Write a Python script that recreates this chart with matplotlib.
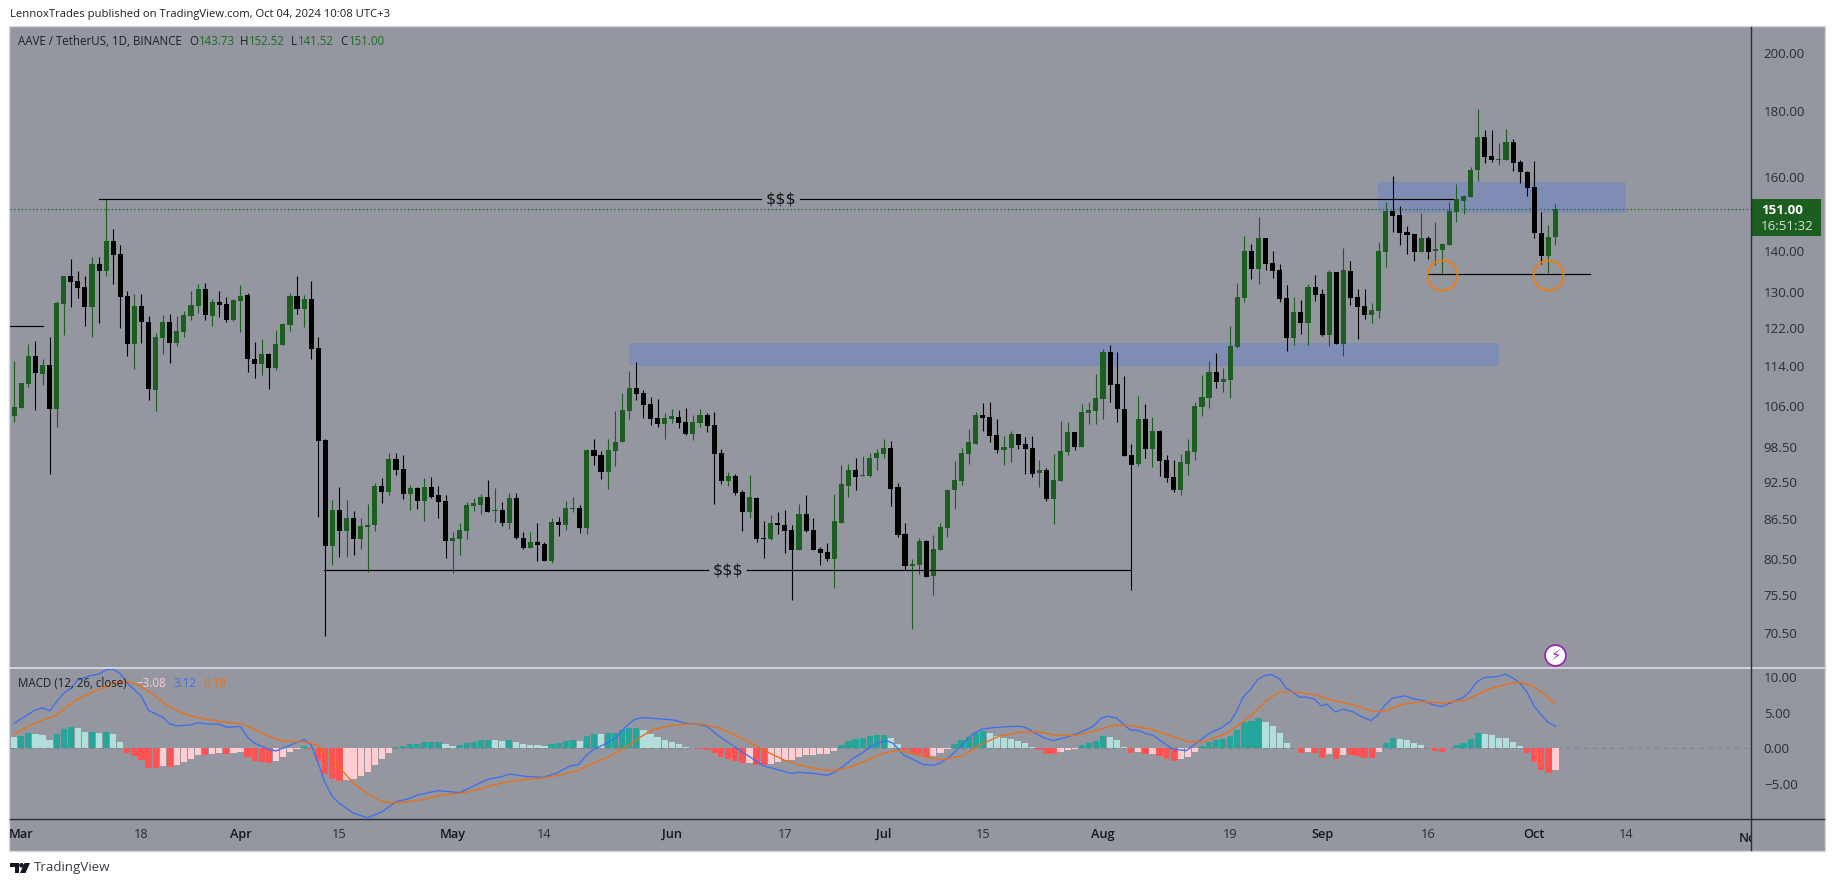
import numpy as np
import matplotlib
matplotlib.use("Agg")
import matplotlib.pyplot as plt
from matplotlib.patches import Rectangle, Polygon, Circle
from matplotlib.transforms import Affine2D, Bbox, TransformedBbox

plt.rcParams['font.family'] = ['Open Sans', 'DejaVu Sans']

# daily candles, index 0 = Feb 29 2024, index 218 = Oct 4 2024
opens = [
    104.2, 105.7, 110.3, 116.0, 112.3, 114.2, 105.5, 127.4, 134.0, 132.8,
    131.3, 126.7, 136.9, 135.2, 142.6, 139.3, 129.2, 118.6, 126.9, 123.3,
    109.1, 119.8, 123.3, 118.8, 121.1, 124.6, 126.9, 130.8, 124.6, 127.8,
    127.4, 123.7, 128.1, 129.4, 115.4, 114.4, 116.5, 113.5, 118.4, 122.6,
    129.2, 126.2, 128.5, 117.7, 99.8, 82.4, 88.0, 84.7, 86.7, 83.5,
    85.3, 85.6, 91.9, 90.9, 96.4, 94.7, 90.6, 91.5, 89.4, 91.7,
    90.3, 89.4, 83.2, 83.5, 84.7, 88.6, 88.8, 90.1, 87.8, 88.0,
    85.9, 89.9, 83.7, 82.2, 83.1, 82.8, 80.3, 86.1, 85.7, 88.2,
    88.3, 85.2, 98.0, 97.1, 94.2, 97.8, 99.3, 105.1, 109.6, 108.6,
    106.4, 103.8, 102.7, 103.6, 104.0, 103.1, 100.9, 102.9, 104.4, 102.5,
    97.5, 92.7, 93.5, 90.9, 87.7, 89.9, 83.7, 83.5, 85.9, 85.7,
    84.9, 81.9, 87.4, 84.9, 82.0, 81.6, 80.6, 86.0, 91.9, 94.6,
    93.5, 93.5, 96.5, 97.3, 98.4, 91.6, 84.3, 79.5, 79.7, 83.2,
    78.2, 81.9, 85.2, 91.1, 92.7, 97.3, 99.1, 104.4, 104.0, 100.7,
    98.0, 98.4, 100.9, 99.1, 98.4, 94.0, 94.6, 89.8, 92.7, 97.7,
    101.2, 98.5, 104.7, 105.1, 107.4, 116.9, 110.3, 105.5, 97.1, 95.6,
    103.6, 98.2, 101.4, 96.3, 93.4, 91.1, 95.6, 97.7, 105.9, 107.6,
    112.7, 110.7, 111.1, 117.9, 128.8, 140.1, 135.7, 143.4, 137.1, 135.4,
    128.8, 119.8, 125.6, 123.1, 131.4, 129.7, 120.5, 134.9, 118.6, 135.2,
    129.0, 126.9, 124.9, 125.8, 139.8, 150.6, 149.5, 145.0, 144.4, 139.8,
    143.4, 140.1, 140.3, 141.6, 150.3, 153.2, 154.4, 162.1, 172.0, 166.2,
    165.0, 165.0, 170.4, 164.2, 161.5, 157.0, 144.7, 138.8, 143.73,
]
highs = [
    115.0, 110.5, 118.6, 119.2, 115.4, 120.0, 128.1, 134.0, 138.1, 135.2,
    134.0, 138.6, 138.6, 153.7, 145.8, 141.6, 130.4, 129.7, 129.7, 124.6,
    120.9, 124.9, 125.1, 124.6, 125.8, 130.4, 132.0, 132.3, 128.5, 130.4,
    129.0, 128.5, 131.8, 129.9, 119.0, 119.6, 116.7, 121.5, 123.1, 129.9,
    134.0, 129.4, 132.6, 120.0, 100.0, 89.6, 91.7, 89.6, 87.8, 86.7,
    88.9, 92.4, 93.2, 97.5, 97.5, 97.1, 92.0, 91.7, 93.2, 93.4,
    91.9, 90.4, 84.6, 85.9, 89.3, 89.9, 90.6, 92.9, 91.5, 89.3,
    90.7, 90.7, 84.6, 84.5, 85.9, 83.0, 86.7, 86.9, 89.4, 90.1,
    88.8, 98.2, 99.9, 97.8, 99.9, 105.1, 108.5, 112.9, 114.7, 109.1,
    107.8, 107.4, 104.7, 105.5, 105.3, 105.7, 104.4, 105.5, 104.7, 104.9,
    98.2, 94.2, 93.9, 91.2, 93.7, 90.1, 86.2, 87.2, 87.7, 88.0,
    85.6, 88.9, 90.3, 86.7, 82.3, 82.9, 90.6, 95.4, 95.6, 96.5,
    97.0, 97.5, 98.2, 100.0, 99.6, 92.4, 85.9, 80.5, 83.7, 83.4,
    84.1, 86.0, 91.1, 96.0, 98.4, 101.8, 104.9, 106.6, 106.8, 103.6,
    100.5, 101.4, 100.9, 100.2, 100.4, 96.3, 94.9, 97.3, 103.2, 103.1,
    101.2, 106.4, 106.8, 112.3, 117.5, 118.2, 116.9, 111.9, 99.1, 108.0,
    106.4, 104.0, 101.6, 97.1, 96.3, 97.3, 100.0, 106.8, 112.1, 115.0,
    116.7, 113.5, 122.4, 132.3, 143.9, 141.8, 149.0, 143.4, 140.0, 136.9,
    131.8, 129.0, 128.3, 132.1, 134.2, 130.7, 135.4, 134.9, 140.8, 137.5,
    130.9, 130.9, 127.6, 142.4, 152.9, 160.1, 151.9, 146.5, 144.4, 150.0,
    143.9, 147.6, 142.2, 152.9, 157.9, 154.9, 162.9, 180.7, 173.9, 173.9,
    170.1, 174.2, 171.3, 165.0, 161.8, 164.6, 150.3, 146.8, 152.52,
]
lows = [
    103.1, 105.7, 109.8, 105.3, 110.1, 93.9, 102.1, 120.5, 126.7, 128.8,
    122.4, 120.1, 123.1, 134.0, 132.0, 122.0, 116.0, 113.3, 118.8, 107.2,
    105.0, 116.3, 114.6, 118.1, 120.0, 123.7, 125.3, 123.7, 122.4, 124.4,
    123.3, 123.5, 121.1, 112.7, 111.5, 112.1, 109.3, 113.1, 118.4, 121.3,
    125.1, 122.2, 115.4, 86.9, 70.1, 79.7, 80.9, 80.9, 81.2, 82.0,
    78.7, 84.7, 89.1, 90.4, 93.7, 89.8, 88.0, 88.2, 86.2, 89.9,
    86.7, 80.7, 78.6, 81.1, 83.5, 87.8, 87.4, 87.7, 86.1, 85.5,
    85.0, 83.5, 82.0, 82.2, 80.2, 80.2, 80.0, 83.9, 84.9, 87.7,
    84.4, 84.2, 95.4, 93.0, 91.3, 95.2, 99.3, 103.6, 107.2, 103.8,
    102.5, 102.1, 100.0, 102.8, 101.9, 100.7, 99.8, 102.1, 101.1, 88.9,
    92.2, 91.9, 90.4, 84.7, 86.7, 83.1, 80.7, 83.4, 84.3, 81.5,
    74.8, 81.8, 84.6, 81.8, 79.7, 80.2, 76.5, 86.0, 90.1, 91.1,
    93.5, 93.4, 94.6, 96.5, 88.6, 83.8, 79.0, 71.1, 78.4, 78.0,
    75.5, 81.9, 83.8, 88.2, 92.0, 95.6, 99.1, 101.4, 99.3, 97.5,
    95.4, 95.8, 98.2, 93.9, 93.4, 91.6, 89.4, 85.8, 92.7, 97.1,
    98.0, 98.5, 102.7, 102.7, 103.6, 106.8, 103.1, 97.0, 76.2, 95.2,
    96.6, 95.1, 93.5, 92.5, 90.9, 90.3, 93.7, 96.3, 104.2, 105.7,
    109.6, 108.8, 107.6, 117.7, 127.8, 133.3, 132.1, 135.4, 133.5, 127.8,
    117.1, 118.4, 120.7, 118.4, 128.1, 120.3, 118.0, 118.6, 116.0, 127.2,
    119.6, 124.0, 123.1, 124.2, 136.2, 145.0, 141.6, 139.3, 137.6, 139.8,
    138.1, 136.6, 134.2, 141.6, 147.6, 149.7, 154.4, 158.7, 163.9, 164.2,
    163.3, 165.0, 161.8, 158.1, 154.6, 143.4, 136.9, 134.7, 141.52,
]
closes = [
    105.9, 110.5, 116.0, 112.5, 114.2, 105.5, 127.6, 134.0, 132.5, 131.1,
    126.7, 136.9, 135.2, 142.6, 139.0, 129.0, 118.6, 126.9, 123.3, 109.3,
    120.0, 123.3, 118.8, 121.3, 124.9, 127.1, 130.8, 124.9, 127.8, 127.1,
    123.7, 128.3, 129.2, 115.4, 114.4, 116.5, 113.5, 118.6, 122.8, 129.2,
    126.2, 128.5, 117.5, 99.6, 82.5, 88.0, 84.7, 86.7, 83.5, 85.4,
    85.7, 91.9, 90.9, 96.4, 94.6, 90.6, 91.5, 89.4, 91.7, 90.1,
    89.3, 83.2, 83.7, 84.9, 88.8, 89.0, 90.1, 87.7, 88.0, 85.9,
    89.9, 83.7, 82.2, 83.1, 82.6, 80.3, 86.1, 85.7, 88.3, 88.3,
    85.2, 98.0, 97.0, 94.2, 98.0, 99.4, 105.3, 109.6, 108.4, 106.3,
    103.6, 102.7, 103.8, 104.2, 102.9, 100.9, 103.1, 104.4, 102.3, 97.3,
    92.7, 93.5, 90.7, 87.7, 90.1, 83.5, 83.5, 85.9, 85.7, 84.7,
    81.9, 87.4, 84.7, 81.9, 81.5, 80.6, 86.2, 92.1, 94.6, 93.4,
    93.7, 96.6, 97.5, 98.4, 91.4, 84.1, 79.5, 79.9, 83.2, 78.0,
    82.0, 85.3, 91.1, 92.9, 97.5, 99.3, 104.4, 103.8, 100.5, 98.0,
    98.5, 100.9, 98.9, 98.2, 93.9, 94.6, 89.8, 92.9, 97.8, 101.2,
    98.5, 104.9, 105.3, 107.6, 116.9, 110.1, 105.5, 97.0, 95.4, 103.6,
    98.2, 101.4, 96.0, 93.2, 91.1, 95.8, 97.8, 106.1, 107.8, 112.7,
    110.7, 111.2, 118.1, 129.0, 140.1, 135.7, 143.4, 136.9, 135.2, 128.5,
    119.8, 125.6, 123.1, 131.4, 129.5, 120.5, 134.9, 118.6, 135.4, 128.8,
    126.7, 124.9, 126.0, 140.1, 150.6, 149.2, 144.7, 144.2, 139.8, 143.4,
    139.8, 140.6, 141.9, 150.6, 153.8, 154.6, 162.1, 172.0, 165.9, 164.8,
    165.3, 170.4, 163.9, 161.3, 156.7, 144.7, 138.8, 143.7, 151.00,
]

# MACD pane
hist_vals = [
    1.60, 1.75, 2.17, 2.03, 1.89, 1.18, 2.03, 2.74, 3.02, 2.88,
    2.31, 2.31, 2.17, 2.31, 2.03, 0.90, -0.66, -1.08, -1.65, -2.78,
    -2.78, -2.50, -2.64, -2.36, -1.93, -1.51, -0.94, -0.94, -0.80, -0.66,
    -0.80, -0.66, -0.52, -1.23, -1.79, -1.93, -2.08, -1.79, -1.23, -0.52,
    -0.14, 0.33, -0.14, -1.79, -3.63, -4.34, -4.62, -4.48, -4.34, -3.90,
    -3.35, -2.36, -1.51, -0.66, 0.19, 0.33, 0.61, 0.61, 0.90, 0.90,
    0.90, 0.61, 0.33, 0.47, 0.75, 0.90, 1.18, 1.18, 1.18, 1.04,
    1.18, 0.90, 0.61, 0.47, 0.47, 0.33, 0.61, 0.75, 1.04, 1.18,
    1.04, 1.75, 2.03, 2.03, 2.17, 2.17, 2.60, 2.88, 2.88, 2.60,
    2.03, 1.60, 1.18, 0.90, 0.61, 0.19, 0.05, -0.09, -0.24, -0.66,
    -1.23, -1.51, -1.79, -2.08, -2.08, -2.36, -2.36, -2.22, -1.93, -1.65,
    -1.65, -1.23, -0.94, -0.94, -0.80, -0.80, -0.38, 0.47, 1.04, 1.32,
    1.46, 1.75, 1.89, 1.89, 1.46, 0.61, -0.20, -0.66, -0.80, -1.23,
    -1.08, -0.66, -0.09, 0.61, 1.18, 1.60, 2.17, 2.45, 2.17, 1.75,
    1.46, 1.32, 1.04, 0.75, 0.19, -0.20, -0.80, -0.80, -0.52, -0.24,
    -0.14, 0.47, 0.75, 1.04, 1.75, 1.60, 1.18, 0.19, -0.66, -0.52,
    -0.80, -0.80, -1.08, -1.51, -1.79, -1.51, -1.23, -0.52, 0.33, 0.90,
    1.18, 1.32, 1.75, 2.60, 3.73, 3.87, 4.29, 3.73, 3.16, 2.17,
    0.75, 0.05, -0.66, -0.52, -0.66, -1.37, -0.80, -1.51, -0.94, -0.94,
    -1.08, -1.37, -1.37, -0.52, 0.75, 1.46, 1.32, 1.18, 0.75, 0.47,
    0.05, -0.38, -0.52, 0.05, 0.47, 0.75, 1.32, 2.17, 2.03, 1.89,
    1.46, 1.46, 0.90, 0.33, -0.66, -1.89, -3.06, -3.54, -3.08,
]
hist_kinds = ("lttllltttl" "ltltllrrrr" "rprpppprpp" "rpprrrrppp" "ptrrrrrppp"
              "pppptttttt" "tlltttttll" "tllllltttt" "lttltttttl" "lllllllrrr"
              "rrrrprrppp" "pppppppttt" "ttttllrrrr" "ppptttttll" "lllllrrrpp"
              "pttttlllrp" "rprrrppptt" "tttttttlll" "llrprrprpr" "rrrpttllll"
              "lrrtttttll" "llllrrrrp")

macd_days = [0, 3, 4, 5, 6, 7, 8, 9, 10.7, 12, 13, 14, 15, 16, 18, 19, 21, 22, 23, 25, 26, 27, 29, 30, 32,
             33, 34, 36, 37, 38, 40, 41, 42, 43, 44, 45, 46, 48, 50, 52, 54, 56, 57, 60, 63, 65, 67, 69, 70,
             72.5, 74.8, 76.7, 78.6, 79.8, 81, 82, 83.8, 85.2, 86.6, 87.8, 89, 91.3, 93.2, 94.9, 96.5, 98,
             99.8, 102.2, 104, 106, 107.8, 110, 111, 113, 115, 116, 117.3, 118.7, 120, 122, 123.4, 124.3,
             125.8, 126.9, 128.6, 130, 130.9, 132.3, 133.8, 135.4, 136.8, 138.5, 140.8, 142.2, 143.2, 144.6,
             145.8, 147, 148.4, 150.3, 152.6, 153.8, 154.7, 155.9, 157.8, 159, 160.2, 161.1, 162.5, 163.9,
             165.8, 167.2, 168.9, 170.8, 172, 172.9, 173.8, 175, 175.9, 176.9, 177.8, 179, 179.9, 180.6,
             181.8, 182.8, 183.9, 184.9, 185.7, 186.8, 188, 189.4, 190.8, 191.9, 192.9, 193.9, 194.9, 196.7,
             197.9, 199.3, 200.7, 201.9, 203.3, 205, 205.9, 206.9, 208, 209.9, 210.9, 212, 213, 214, 215,
             216, 217, 218]
macd_vals = [3.54, 5.42, 5.71, 5.28, 6.6, 7.78, 8.49, 9.67, 10.25, 10.5, 11.08, 11.18, 10.52, 9.2, 7.31, 5.33,
             4.39, 3.44, 3.16, 3.3, 3.63, 3.44, 3.4, 2.97, 3.07,
             1.56, 0.71, -0.14, -0.38, 0.0, 0.85, 1.27, 0.47, -2.12, -4.95, -6.84, -7.78, -9.2, -9.81, -9.0,
             -7.55, -7.08, -6.6, -5.99, -6.27, -5.33, -4.39, -4.0, -3.63,
             -4.0, -4.1, -3.54, -2.5, -2.31, -0.94, -0.14, 0.71, 1.56, 3.16, 4.1, 4.34, 4.15, 4.0, 3.54, 3.44, 3.07,
             1.65, 0.0, -1.18, -2.5, -2.97, -3.58, -3.4, -3.54, -3.82, -3.44, -2.5, -1.41, -0.61, 0.71, 1.04, 0.71,
             -0.94, -1.46, -2.31, -2.4, -2.12, -1.18, 0.14, 1.89, 2.69, 2.92, 3.07, 3.11, 2.88, 2.03,
             1.41, 1.08, 1.46, 2.03, 3.07, 4.29, 4.53, 4.29, 2.6, 2.5, 2.03, 1.84, 0.8, -0.14,
             -0.33, 0.71, 2.03, 2.92, 3.77, 5.19, 7.22, 8.49, 9.76, 10.28, 10.42, 9.81, 8.49, 8.11,
             7.22, 7.22, 6.93, 5.99, 6.23, 5.14, 5.52, 5.14, 4.34, 3.92, 4.72, 6.13, 7.08, 7.41,
             6.98, 6.75, 6.13, 5.9, 6.46, 7.22, 8.02, 9.43, 10.0, 10.14, 10.47, 9.91, 9.2, 7.9, 5.9,
             4.72, 3.63, 3.12]
signal_days = [0, 2, 4, 5.75, 7.2, 8.8, 10.7, 12.4, 14.2, 16.1, 17.8, 19.7, 21.6, 23.4, 25.3, 27.7, 30, 32.2,
               34, 35.7, 37.4, 39, 41.1, 42.8, 44.4, 46.1, 48, 49.9, 51.7, 53.2, 55, 57.9, 60.2, 63, 65.4, 67.8, 70,
               72.5, 74.8, 77.2, 79.5, 81.9, 84.2, 86.6, 88.5, 90.4, 92.8, 95.1, 97.5, 99.8, 102.2, 104.5, 106.9,
               109.2, 111.6, 113.9, 115.8, 118.2, 120.6, 122.9, 124.8, 126.7, 129, 131.4, 134.2, 136.6, 139.4, 142.2,
               144.6, 147.4, 150, 153.1, 155.4, 157.8, 160.9, 163.5, 166.1, 168.2, 171.5, 173.6, 175.3, 177.2, 179,
               180.9, 183.7, 186.6, 189.4, 192.2, 193.6, 196.5, 199.3, 202.1, 205.4, 208.3, 211.6, 213, 214.4, 216,
               217, 218]
signal_vals = [2.03, 3.07, 4.0, 4.58, 5.66, 6.84, 7.78, 8.49, 9.2, 9.43, 8.82, 7.55, 6.13, 5.09, 4.48, 4.0, 3.68, 3.44,
               2.69, 1.89, 1.18, 0.94, 0.94, 0.47, -0.94, -2.83, -4.95, -6.37, -7.41, -7.69, -7.64, -7.22, -6.65, -6.37,
               -5.9, -5.19, -4.72,
               -4.39, -4.2, -3.77, -3.21, -2.12, -1.18, 0.24, 1.56, 2.64, 3.21, 3.44, 3.4, 2.83, 1.75, 0.57, -0.71,
               -1.79, -2.5, -2.97, -3.16, -2.69, -1.75, -0.71, -0.33, -0.61, -1.27, -1.56, -1.04, 0.47, 1.75, 2.26,
               2.36, 1.84, 1.79, 2.5, 3.25, 3.21, 2.69, 1.75, 0.9, 0.94, 2.12, 3.54, 4.95, 6.84, 7.92,
               7.97, 7.64, 6.75, 6.13, 5.19, 5.19, 6.23, 6.6, 6.37, 6.84, 8.25, 9.2, 9.34, 8.96, 8.0,
               7.1, 6.19]

# axis labels
price_ticks = [200, 180, 160, 140, 130, 122, 114, 106, 98.5, 92.5, 86.5, 80.5, 75.5, 70.5]
macd_ticks = [10, 5, 0, -5]
date_ticks = [1, 18, 32, 46, 62, 75, 93, 109, 123, 137, 154, 172, 185, 200, 215, 228]
date_labels = ['Mar', '18', 'Apr', '15', 'May', '14', 'Jun', '17', 'Jul', '15', 'Aug', '19', 'Sep', '16', 'Oct', '14']
months = ['Mar', 'Apr', 'May', 'Jun', 'Jul', 'Aug', 'Sep', 'Oct']

# drawings on the chart
zone_low = [114.0, 150.0]
zone_high = [118.7, 158.5]
zone_start = [86.9, 192.9]
zone_end = [210, 228]
last_price = 151.00

W, H = 1835, 886
BG = '#94979F'
GREEN = '#1B5E20'
DARK = '#2A2C34'
AXL, AXR, TOP, SEP, BOT, FRAME_R, FRAME_B = 10, 1751.3, 27, 668.3, 819.3, 1824, 850

fig = plt.figure(figsize=(W / 100, H / 100), dpi=100, facecolor='white')
# pixel coordinates for the things around the chart
px = Affine2D().scale(1 / W, -1 / H).translate(0, 1) + fig.transFigure

fig.add_artist(Rectangle((AXL - 1, TOP - 1), FRAME_R - AXL + 2, FRAME_B - TOP + 2, transform=px,
                         fc=BG, ec='#D5D7DF', lw=1, zorder=-5))


def pane(top, bottom):
    ax = fig.add_axes([AXL / W, 1 - bottom / H, (AXR - AXL) / W, (bottom - top) / H])
    ax.patch.set_alpha(0)
    for s in ax.spines.values():
        s.set_visible(False)
    ax.set_xlim(-0.6, 245.7)
    ax.yaxis.tick_right()
    ax.tick_params(axis='y', length=0, pad=9, labelsize=9.6, labelcolor='#2B2D33')
    return ax


ax = pane(TOP, SEP)
ax.set_yscale('log')
ax.set_ylim(66.2, 209.4)
ax.set_yticks(price_ticks)
ax.set_yticklabels(['%.2f' % v for v in price_ticks])
ax.minorticks_off()
ax.set_xticks([])

days = np.arange(len(closes))
o, h, l, c = np.array(opens), np.array(highs), np.array(lows), np.array(closes)
colors = np.where(c >= o, GREEN, '#000000')

# zones go under the candles
for lo, hi, a, b in zip(zone_low, zone_high, zone_start, zone_end):
    ax.add_patch(Rectangle((a, lo), b - a, hi - lo, fc='#7F8DB5', ec='none', zorder=1))

ax.vlines(days, l, h, colors=colors, lw=0.8, zorder=3)
ax.bar(days, np.abs(c - o), bottom=np.minimum(o, c), width=0.72, color=colors, zorder=4)

ax.axhline(last_price, color=GREEN, lw=0.9, ls=(0, (1, 2)), zorder=2)

# liquidity lines and marked lows
ax.plot([12, 105.6], [153.7, 153.7], color='k', lw=0.85, zorder=5)
ax.plot([111.1, 203.5], [153.7, 153.7], color='k', lw=0.85, zorder=5)
ax.text(108.4, 153.7, '$$$', ha='center', va='center', fontsize=11.5, color='#111111',
        fontfamily='DejaVu Sans', zorder=6, parse_math=False)
ax.plot([43.8, 98.1], [79.0, 79.0], color='k', lw=0.85, zorder=5)
ax.plot([103.7, 158], [79.0, 79.0], color='k', lw=0.85, zorder=5)
ax.text(100.9, 79.0, '$$$', ha='center', va='center', fontsize=11.5, color='#111111',
        fontfamily='DejaVu Sans', zorder=6, parse_math=False)
ax.plot([-0.6, 4.0], [122.4, 122.4], color='k', lw=0.85, zorder=5)
ax.plot([199.9, 222.9], [134.4, 134.4], color='k', lw=0.85, zorder=5)
ax.plot([202, 217], [134.1, 134.1], 'o', ms=21.5, mfc='none', mec='#F57C00', mew=1.2, zorder=6)

# lightning badge over the last candle
ax.plot([218], [67.8], 'o', ms=15, mfc='white', mec='#9C27B0', mew=1.3, clip_on=False, zorder=7)
ax.text(218, 67.8, '\u26a1', ha='center', va='center', fontsize=10.5, color='#9C27B0',
        fontfamily='DejaVu Sans', clip_on=False, zorder=8)

# MACD
ax2 = pane(SEP, BOT)
ax2.set_ylim(-10.04, 11.3)
ax2.set_yticks(macd_ticks)
ax2.set_yticklabels(['%.2f' % v if v >= 0 else '\u2212%.2f' % -v for v in macd_ticks])
kind_colors = {'t': '#26A69A', 'l': '#B2DFDB', 'r': '#FF5252', 'p': '#FFCDD2'}
ax2.axhline(0, color='#82858D', lw=0.8, ls=(0, (4, 4)), zorder=1)
ax2.bar(days, hist_vals, width=0.88, color=[kind_colors[k] for k in hist_kinds], zorder=2)
ax2.plot(macd_days, macd_vals, color='#3F6FEF', lw=0.95, zorder=3)
ax2.plot(signal_days, signal_vals, color='#EC6F12', lw=0.95, zorder=4)
ax2.set_xticks(date_ticks)
ax2.set_xticklabels(date_labels)
ax2.tick_params(axis='x', length=0, pad=6, labelsize=9.2, labelcolor='#2B2D33')
for t in ax2.get_xticklabels():
    if t.get_text() in months:
        t.set_fontweight('semibold')
        t.set_color('#15161A')
# Nov sits past the scale and gets cut by it
nov = ax2.text(245.6, -0.125, 'Nov', transform=ax2.get_xaxis_transform(), ha='center', va='center',
               fontsize=9.2, fontweight='semibold', color='#15161A', clip_on=True)
nov.set_clip_box(TransformedBbox(Bbox([[0, 0], [AXR, H]]), Affine2D().scale(1 / W, 1 / H) + fig.transFigure))

# frame lines
fig.add_artist(plt.Line2D([AXL, FRAME_R], [SEP, SEP], transform=px, color='#E4E5EA', lw=1.1))
fig.add_artist(plt.Line2D([AXL, FRAME_R], [BOT, BOT], transform=px, color=DARK, lw=1))
fig.add_artist(plt.Line2D([AXR, AXR], [TOP, FRAME_B], transform=px, color=DARK, lw=1))

# price label on the scale
fig.add_artist(Rectangle((AXR, 199.3), 70, 36.4, transform=px, fc=GREEN, ec='none'))
fig.text(1761 / W, 1 - 210.5 / H, '151.00', fontsize=9.6, fontweight='bold', color='white', va='center')
fig.text(1761 / W, 1 - 226 / H, '16:51:32', fontsize=9.6, color='#D5E3D6', va='center')


def label(x, y, s, color='#1E1F24', size=8.3, **kw):
    fig.text(x / W, 1 - y / H, s, fontsize=size, color=color, va='center', **kw)


label(10, 15, 'LennoxTrades published on TradingView.com, Oct 04, 2024 10:08 UTC+3', size=8.15)

label(17.5, 41.5, 'AAVE / TetherUS, 1D, BINANCE')
val_green = '#1F6B27'
for x, s, col in [(189.5, 'O', None), (198.5, '143.73', val_green), (240, 'H', None), (249, '152.52', val_green),
                  (291, 'L', None), (298, '141.52', val_green), (340, 'C', None), (348.5, '151.00', val_green)]:
    label(x, 41.5, s, color=col or '#1E1F24')

label(17.5, 683.5, 'MACD (12, 26, close)')
label(136, 683.5, '\u22123.08', color='#FFCDD2')
label(173, 683.5, '3.12', color='#3F6FEF')
label(203.5, 683.5, '6.19', color='#EC6F12')

# TradingView mark
fig.add_artist(Polygon([(10, 863), (19, 863), (19, 873), (14.5, 873), (14.5, 867.5), (10, 867.5)],
                       transform=px, fc='#131722', ec='none'))
fig.add_artist(Circle((21.5, 865.3), 2.3, transform=px, fc='#131722', ec='none'))
fig.add_artist(Polygon([(24.5, 863), (30, 863), (25.5, 873), (20, 873)], transform=px, fc='#131722', ec='none'))
label(33.5, 868, 'TradingView', color='#3A3D46', size=9.6)

fig.savefig('out.png', dpi=100)
